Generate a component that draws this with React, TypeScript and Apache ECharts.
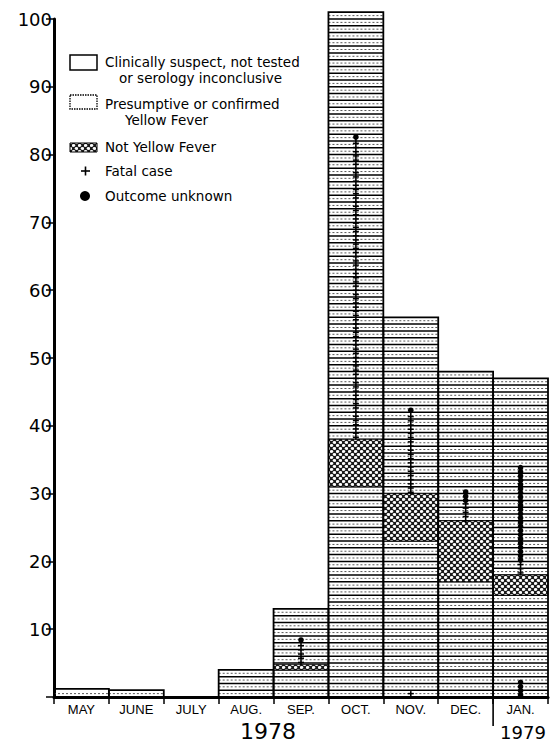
import React, { useEffect, useRef } from 'react';
import * as echarts from 'echarts';

const months = ['MAY', 'JUNE', 'JULY', 'AUG.', 'SEP.', 'OCT.', 'NOV.', 'DEC.', 'JAN.'];
const totalCases = [1.2, 1.0, 0, 4, 13, 101, 56, 48, 47];
const notYellowFeverLow = [0, 0, 0, 0, 4, 31, 23, 17, 15];
const notYellowFeverHigh = [0, 0, 0, 0, 4.8, 38, 30, 26, 18];
// [month index, lowest value, highest value] of the column of marks
const fatalRanges = [
  [4, 5.1, 7.6],
  [5, 38.3, 82],
  [6, 30.2, 41.8],
  [6, 0.5, 0.5],
  [7, 26, 28.7],
  [8, 18.3, 20],
];
const unknownRanges = [
  [4, 8.4, 8.4],
  [5, 82.6, 82.6],
  [6, 42.3, 42.3],
  [7, 29, 30.5],
  [8, 20.2, 33.8],
  [8, 0.3, 2.5],
];
const yearLabels = ['1978', '1979'];
const legendTexts = [
  'Clinically suspect, not tested',
  'or serology inconclusive',
  'Presumptive or confirmed',
  'Yellow Fever',
  'Not Yellow Fever',
  'Fatal case',
  'Outcome unknown',
];

function makeHatch(): HTMLCanvasElement {
  const c = document.createElement('canvas');
  c.width = 6;
  c.height = 6;
  const g = c.getContext('2d')!;
  g.fillStyle = '#1a1a1a';
  g.fillRect(0, 0, 6, 6);
  g.fillStyle = '#fff';
  g.beginPath();
  g.ellipse(1.5, 1.5, 1.8, 1.4, 0, 0, Math.PI * 2);
  g.fill();
  g.beginPath();
  g.ellipse(4.5, 4.5, 1.8, 1.4, 0, 0, Math.PI * 2);
  g.fill();
  return c;
}

export default function App() {
  const ref = useRef<HTMLDivElement>(null);
  useEffect(() => {
    if (!ref.current) return;
    const chart = echarts.init(ref.current, null, { renderer: 'svg' });
    const hatch = makeHatch();
    const hatchFill: any = { image: hatch, repeat: 'repeat' };

    const barData = months.map((m, i) => [i, totalCases[i], notYellowFeverLow[i], notYellowFeverHigh[i]]);

    const renderBar = (params: any, api: any) => {
      const i = api.value(0);
      const total = api.value(1);
      const lo = api.value(2);
      const hi = api.value(3);
      const children: any[] = [];
      if (!(total > 0)) return { type: 'group', children };
      const w = api.size([1, 0])[0];
      const base = api.coord([i, 0]);
      const cx = base[0];
      const yBase = base[1];
      const x0 = cx - w / 2;
      const x1 = cx + w / 2;
      const yTop = api.coord([i, total])[1];
      for (let v = 0.5; v < total - 0.3; v += 1) {
        const y = api.coord([i, v])[1];
        children.push({
          type: 'line',
          shape: { x1: x0, y1: y, x2: x1, y2: y },
          style: { stroke: '#444', lineWidth: 0.9, lineDash: [2, 2] },
        });
      }
      for (let v = 1; v < total - 0.3; v += 1) {
        const y = api.coord([i, v])[1];
        children.push({
          type: 'line',
          shape: { x1: x0, y1: y, x2: x1, y2: y },
          style: { stroke: '#000', lineWidth: 1.5 },
        });
      }
      if (hi > lo) {
        const yl = api.coord([i, lo])[1];
        const yh = api.coord([i, hi])[1];
        children.push({
          type: 'rect',
          shape: { x: x0, y: yh, width: w, height: yl - yh },
          style: { fill: hatchFill, stroke: '#000', lineWidth: 0.8 },
        });
      }
      children.push({
        type: 'rect',
        shape: { x: x0, y: yTop, width: w, height: yBase - yTop },
        style: { fill: 'none', stroke: '#000', lineWidth: 1.8 },
      });
      return { type: 'group', children };
    };

    const step = 4.2;
    const renderFatal = (params: any, api: any) => {
      const i = api.value(0);
      const p0 = api.coord([i, api.value(1)]);
      const p1 = api.coord([i, api.value(2)]);
      const cx = p0[0];
      const children: any[] = [];
      children.push({
        type: 'line',
        shape: { x1: cx, y1: p0[1] + 2.5, x2: cx, y2: p1[1] - 2.5 },
        style: { stroke: '#000', lineWidth: 1.6 },
      });
      for (let y = p0[1]; y >= p1[1] - 0.5; y -= step) {
        children.push({
          type: 'line',
          shape: { x1: cx - 3, y1: y, x2: cx + 3, y2: y },
          style: { stroke: '#000', lineWidth: 1.5 },
        });
      }
      return { type: 'group', children };
    };

    const renderUnknown = (params: any, api: any) => {
      const i = api.value(0);
      const p0 = api.coord([i, api.value(1)]);
      const p1 = api.coord([i, api.value(2)]);
      const cx = p0[0];
      const children: any[] = [];
      for (let y = p0[1]; y >= p1[1] - 0.5; y -= step) {
        children.push({
          type: 'circle',
          shape: { cx, cy: y, r: 2.8 },
          style: { fill: '#000' },
        });
      }
      return { type: 'group', children };
    };

    const renderDivider = (params: any, api: any) => {
      const i = api.value(0);
      const w = api.size([1, 0])[0];
      const p = api.coord([i, 0]);
      return {
        type: 'line',
        shape: { x1: p[0] - w / 2, y1: p[1], x2: p[0] - w / 2, y2: p[1] + 29 },
        style: { stroke: '#000', lineWidth: 1.6 },
      };
    };

    const legendFont = '13.5px "DejaVu Sans", sans-serif';
    const textStyle = (x: number, y: number, text: string) => ({
      type: 'text',
      x,
      y,
      style: { text, font: legendFont, fill: '#000', textVerticalAlign: 'middle' },
    });

    chart.setOption({
      animation: false,
      backgroundColor: '#fff',
      grid: { left: 54, right: 2, top: 19, bottom: 47, containLabel: false },
      xAxis: {
        type: 'category',
        data: months,
        boundaryGap: true,
        axisLine: { show: true, lineStyle: { color: '#000', width: 3 } },
        axisTick: { show: true, interval: 0, length: 7, lineStyle: { color: '#000', width: 1.5 } },
        axisLabel: {
          interval: 0,
          color: '#000',
          fontSize: 13,
          fontFamily: '"Liberation Sans Narrow", "Liberation Sans", sans-serif',
          margin: 6,
        },
        splitLine: { show: false },
      },
      yAxis: {
        type: 'value',
        min: 0,
        max: 100,
        interval: 10,
        axisLine: { show: true, lineStyle: { color: '#000', width: 3 } },
        axisTick: { show: true, length: 8, lineStyle: { color: '#000', width: 1.5 } },
        axisLabel: {
          color: '#000',
          fontSize: 18,
          fontFamily: '"DejaVu Sans", sans-serif',
          margin: 2,
          formatter: (v: number) => (v === 0 ? '' : String(v)),
        },
        splitLine: { show: false },
      },
      series: [
        {
          type: 'custom',
          name: 'cases',
          data: barData,
          encode: { x: 0, y: 1 },
          renderItem: renderBar,
          clip: false,
          z: 2,
        },
        {
          type: 'custom',
          name: 'Fatal case',
          data: fatalRanges,
          encode: { x: 0, y: [1, 2] },
          renderItem: renderFatal,
          clip: false,
          z: 3,
        },
        {
          type: 'custom',
          name: 'Outcome unknown',
          data: unknownRanges,
          encode: { x: 0, y: [1, 2] },
          renderItem: renderUnknown,
          clip: false,
          z: 4,
        },
        {
          type: 'custom',
          name: 'divider',
          data: [[8, 0]],
          encode: { x: 0, y: 1 },
          renderItem: renderDivider,
          clip: false,
          z: 4,
        },
      ],
      graphic: [
        { type: 'rect', shape: { x: 70, y: 55, width: 27, height: 15 }, style: { fill: '#fff', stroke: '#000', lineWidth: 1.5 } },
        { type: 'rect', shape: { x: 70, y: 95, width: 27, height: 14 }, style: { fill: '#fff', stroke: '#000', lineWidth: 1.3, lineDash: [1.5, 1] } },
        { type: 'rect', shape: { x: 70, y: 143, width: 27, height: 9 }, style: { fill: hatchFill, stroke: '#000', lineWidth: 1 } },
        textStyle(105, 62, legendTexts[0]),
        textStyle(119, 78, legendTexts[1]),
        textStyle(105, 104, legendTexts[2]),
        textStyle(125, 120, legendTexts[3]),
        textStyle(105, 147, legendTexts[4]),
        { type: 'line', shape: { x1: 81, y1: 171, x2: 90, y2: 171 }, style: { stroke: '#000', lineWidth: 1.6 } },
        { type: 'line', shape: { x1: 85.5, y1: 166.5, x2: 85.5, y2: 175.5 }, style: { stroke: '#000', lineWidth: 1.6 } },
        textStyle(105, 171, legendTexts[5]),
        { type: 'circle', shape: { cx: 85, cy: 196, r: 5 }, style: { fill: '#000' } },
        textStyle(105, 196, legendTexts[6]),
        {
          type: 'text',
          x: 268,
          y: 731,
          style: { text: yearLabels[0], font: '22px "DejaVu Sans", sans-serif', fill: '#000', textAlign: 'center', textVerticalAlign: 'middle' },
        },
        {
          type: 'text',
          x: 523,
          y: 732,
          style: { text: yearLabels[1], font: '18px "DejaVu Sans", sans-serif', fill: '#000', textAlign: 'center', textVerticalAlign: 'middle' },
        },
      ],
    });
    return () => chart.dispose();
  }, []);
  return <div ref={ref} style={{ width: 550, height: 744, position: 'absolute', left: 0, top: 0 }} />;
}
